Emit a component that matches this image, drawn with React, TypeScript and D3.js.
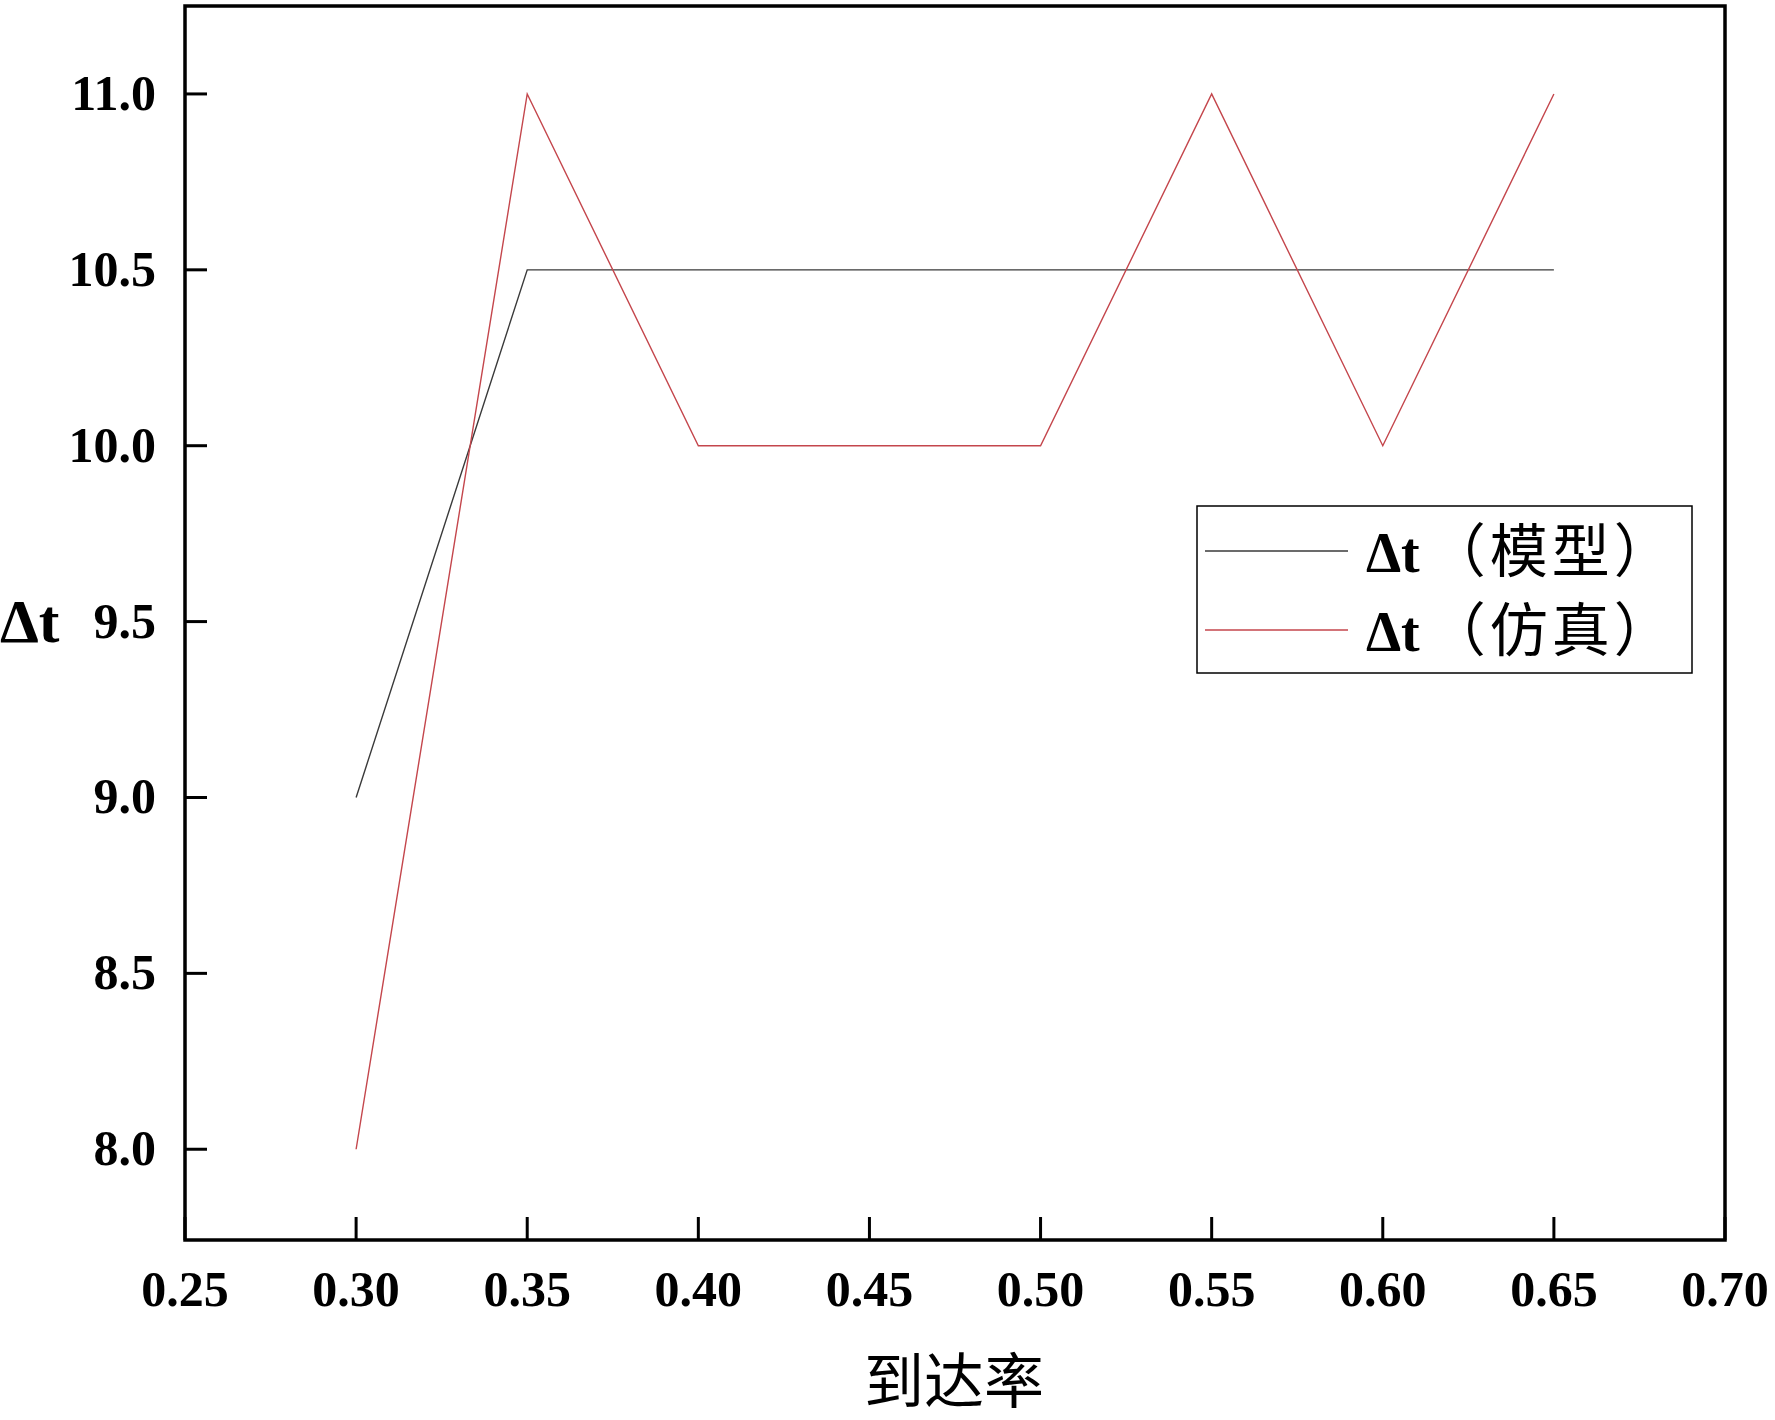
import React from "react";
import * as d3 from "d3";

const xValues = [0.3, 0.35, 0.4, 0.45, 0.5, 0.55, 0.6, 0.65];
const modelValues = [9.0, 10.5, 10.5, 10.5, 10.5, 10.5, 10.5, 10.5];
const simValues = [8.0, 11.0, 10.0, 10.0, 10.0, 11.0, 10.0, 11.0];
const xTicks = [0.25, 0.3, 0.35, 0.4, 0.45, 0.5, 0.55, 0.6, 0.65, 0.7];
const yTicks = [8.0, 8.5, 9.0, 9.5, 10.0, 10.5, 11.0];
const seriesNames = ["Δt（模型）", "Δt（仿真）"];
const seriesColors = ["#3a3a3a", "#c4464c"];
const xLabel = "到达率";
const yLabel = "Δt";

const W = 1775;
const H = 1420;
const L = 185, R = 1725, T = 6, B = 1240;

export default function App() {
  const x = d3.scaleLinear().domain([0.25, 0.7]).range([L, R]);
  const y = d3.scaleLinear().domain([7.742, 11.25]).range([B, T]);
  const line = d3
    .line<[number, number]>()
    .x((d) => x(d[0]))
    .y((d) => y(d[1]));
  const series = [modelValues, simValues];
  const serif = "'Liberation Serif', 'Times New Roman', serif";
  const cjk = "'Noto Sans CJK SC', sans-serif";
  return (
    <svg
      width={W}
      height={H}
      style={{ position: "absolute", left: 0, top: 0, background: "#fff" }}
    >
      <rect x={0} y={0} width={W} height={H} fill="#fff" />
      {series.map((vals, i) => (
        <path
          key={i}
          d={line(xValues.map((xv, j) => [xv, vals[j]] as [number, number])) || ""}
          fill="none"
          stroke={seriesColors[i]}
          strokeWidth={1.4}
        />
      ))}
      {/* frame */}
      <rect x={L} y={T} width={R - L} height={B - T} fill="none" stroke="#000" strokeWidth={3.5} />
      {/* x ticks */}
      {xTicks.map((t) => (
        <g key={"x" + t}>
          <line x1={x(t)} x2={x(t)} y1={B} y2={B - 23} stroke="#000" strokeWidth={3} />
          <text
            x={x(t)}
            y={1306}
            textAnchor="middle"
            fontFamily={serif}
            fontWeight="bold"
            fontSize={50}
            fill="#000"
          >
            {t.toFixed(2)}
          </text>
        </g>
      ))}
      {/* y ticks */}
      {yTicks.map((t) => (
        <g key={"y" + t}>
          <line x1={L} x2={L + 22} y1={y(t)} y2={y(t)} stroke="#000" strokeWidth={3} />
          <text
            x={156}
            y={y(t) + 16}
            textAnchor="end"
            fontFamily={serif}
            fontWeight="bold"
            fontSize={50}
            fill="#000"
          >
            {t.toFixed(1)}
          </text>
        </g>
      ))}
      {/* axis labels */}
      <text x={0} y={642} fontFamily={serif} fontWeight="bold" fontSize={62} fill="#000">
        {yLabel}
      </text>
      <text x={954} y={1403} textAnchor="middle" fontFamily={cjk} fontSize={60} fill="#000">
        {xLabel}
      </text>
      {/* legend */}
      <rect x={1197} y={506} width={495} height={167} fill="#fff" stroke="#000" strokeWidth={1.5} />
      {seriesNames.map((name, i) => {
        const ly = 551 + i * 79;
        const [delta, rest] = [name.slice(0, 2), name.slice(2)];
        return (
          <g key={name}>
            <line x1={1205} x2={1348} y1={ly} y2={ly} stroke={seriesColors[i]} strokeWidth={1.4} />
            <text x={1366} y={ly + 21} fontSize={56} fill="#000">
              <tspan fontFamily={serif} fontWeight="bold">{delta}</tspan>
              <tspan fontFamily={cjk} dx={8} fontSize={58} letterSpacing={4}>{rest}</tspan>
            </text>
          </g>
        );
      })}
    </svg>
  );
}
